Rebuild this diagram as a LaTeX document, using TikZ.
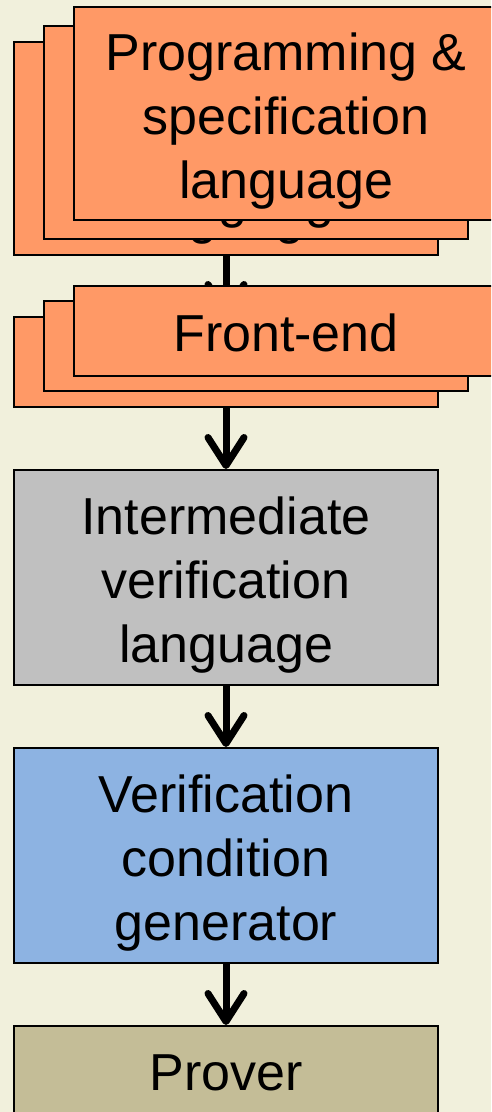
\documentclass[tikz,border=0pt]{standalone}
\usepackage{fontspec}
\setmainfont{Liberation Sans}
\usetikzlibrary{arrows.meta}
\definecolor{bgc}{HTML}{F1F0DC}
\definecolor{orangec}{HTML}{FF9966}
\definecolor{grayc}{HTML}{C0C0C0}
\definecolor{bluec}{HTML}{8DB3E2}
\definecolor{tanc}{HTML}{C4BD97}
\tikzset{
  box/.style={draw=black, line width=2pt, minimum width=424pt, inner sep=0pt},
  tallbox/.style={box, minimum height=213pt},
  shortbox/.style={box, minimum height=90pt},
  lbl/.style={align=center, font=\fontsize{52}{64}\selectfont, yshift=-8pt},
  flow/.style={line width=7pt, -{Straight Barb[length=28pt, width=36pt, line cap=round, line join=round]}}
}
\begin{document}
\begin{tikzpicture}[x=1pt,y=-1pt]
\fill[bgc] (0,0) rectangle (491,1112);
\clip (0,0) rectangle (491,1112);
\useasboundingbox (0,0) rectangle (491,1112);
% top stack
\node[tallbox, fill=orangec, label={[lbl]center:Programming \&\\specification\\language}] (pl3) at (226,148.5) {};
\node[tallbox, fill=orangec, label={[lbl]center:Programming \&\\specification\\language}] (pl2) at (256,132) {};
\node[tallbox, fill=orangec, label={[lbl]center:Programming \&\\specification\\language}] (pl1) at (286,113) {};
% front-end stack
\node[shortbox] (fe3) at (226,362) {};
\draw[flow] (pl3.south) -- (fe3.north);
\node[shortbox, fill=orangec, label={[lbl, yshift=6pt]center:Front-end}] at (fe3) {};
\node[shortbox, fill=orangec, label={[lbl, yshift=6pt]center:Front-end}] (fe2) at (256,346) {};
\node[shortbox, fill=orangec, label={[lbl, yshift=6pt]center:Front-end}] (fe1) at (286,331) {};
% others
\node[box, minimum height=215pt, fill=grayc, label={[lbl]center:Intermediate\\verification\\language}] (ivl) at (226,577.5) {};
\node[box, minimum height=215pt, fill=bluec, label={[lbl]center:Verification\\condition\\generator}] (vcg) at (226,855.5) {};
\node[box, minimum height=215pt, fill=tanc] (prv) at (226,1133.5) {};
\node[font=\fontsize{52}{64}\selectfont, anchor=base] (prvt) at (226,1090) {Prover};
\draw[flow] (fe3.south) -- (ivl.north);
\draw[flow] (ivl.south) -- (vcg.north);
\draw[flow] (vcg.south) -- (prv.north);
\end{tikzpicture}
\end{document}
